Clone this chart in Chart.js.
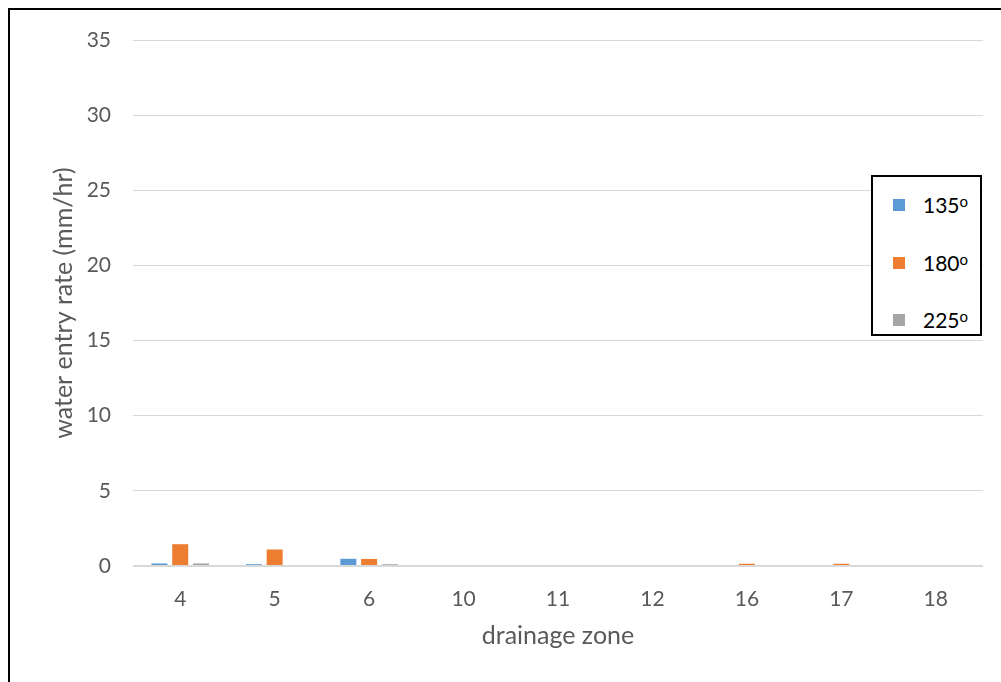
<!DOCTYPE html>
<html>
<head>
<meta charset="utf-8">
<script src="https://cdn.jsdelivr.net/npm/chart.js@4.4.0/dist/chart.umd.min.js"></script>
<style>
  html, body { margin: 0; padding: 0; background: #fff; }
  #wrap { position: relative; width: 1001px; height: 682px; overflow: hidden; }
  #frame { position: absolute; left: 8px; top: 8px; width: 1100px; height: 800px;
           border-left: 2px solid #000; border-top: 2px solid #000; }
  #grafico { position: absolute; left: 0; top: 0; }
  #legenda { position: absolute; left: 871px; top: 175px; width: 107px; height: 157px;
             border: 2px solid #000; background: #fff; font-family: Lato, "Liberation Sans", sans-serif;
             font-size: 21px; color: #000; }
  .item { position: absolute; left: 0; width: 100%; height: 24px; }
  .item .cx { position: absolute; left: 20px; top: 6px; width: 12px; height: 12px; }
  .item .tx { position: absolute; left: 50px; top: 0; line-height: 24px; }
  .item sup { font-size: 15px; vertical-align: 6px; line-height: 0; }
</style>
</head>
<body>
<div id="wrap">
  <div id="frame"></div>
  <canvas id="grafico" width="1001" height="682"></canvas>
  <div id="legenda"></div>
</div>
<script>
// dados
const zonas = ['4', '5', '6', '10', '11', '12', '16', '17', '18'];
const serie135 = [0.17, 0.12, 0.48, 0, 0, 0, 0, 0, 0];
const serie180 = [1.45, 1.1, 0.47, 0, 0, 0, 0.15, 0.15, 0];
const serie225 = [0.17, 0, 0.12, 0, 0, 0, 0, 0, 0];
const nomesSeries = ['135', '180', '225'];
const coresSeries = ['#5B9BD5', '#ED7D31', '#A5A5A5'];
const yMax = 35;
const yPasso = 5;

const fonte = 'Lato, "Liberation Sans", sans-serif';
const cinzaTexto = '#595959';

const valores = [serie135, serie180, serie225];
const datasets = nomesSeries.map((nome, i) => ({
    label: nome,
    data: valores[i],
    backgroundColor: coresSeries[i],
    categoryPercentage: 0.66,
    barPercentage: 0.77
}));

const ctx = document.getElementById('grafico').getContext('2d');
new Chart(ctx, {
    type: 'bar',
    data: { labels: zonas, datasets: datasets },
    options: {
        responsive: false,
        animation: false,
        layout: { padding: { left: 0, top: 40, right: 18, bottom: 0 } },
        plugins: {
            legend: { display: false },
            tooltip: { enabled: false }
        },
        scales: {
            x: {
                grid: { display: false, drawTicks: false },
                border: { display: false },
                ticks: { color: cinzaTexto, font: { family: fonte, size: 21 }, padding: 21 },
                title: {
                    display: true, text: 'drainage zone', color: cinzaTexto,
                    font: { family: fonte, size: 25 }, padding: { bottom: 31 }
                },
                afterFit: function (scale) { scale.height = 116; }
            },
            y: {
                min: 0, max: yMax,
                grid: {
                    drawTicks: false,
                    color: '#D9D9D9',
                    lineWidth: c => c.index === 0 ? 2 : 1
                },
                border: { display: false },
                ticks: { stepSize: yPasso, color: cinzaTexto, font: { family: fonte, size: 21 }, padding: 22 },
                title: {
                    display: true, text: 'water entry rate (mm/hr)', color: cinzaTexto,
                    font: { family: fonte, size: 25 }, padding: { top: 49 }
                },
                afterFit: function (scale) { scale.width = 133; }
            }
        }
    }
});

// legenda em html (com o "o" sobrescrito)
const legenda = document.getElementById('legenda');
const topos = [16, 74, 131];
nomesSeries.forEach((nome, i) => {
    const item = document.createElement('div');
    item.className = 'item';
    item.style.top = topos[i] + 'px';
    item.innerHTML = '<span class="cx" style="background:' + coresSeries[i] + '"></span>' +
        '<span class="tx">' + nome + '<sup>o</sup></span>';
    legenda.appendChild(item);
});
</script>
</body>
</html>
